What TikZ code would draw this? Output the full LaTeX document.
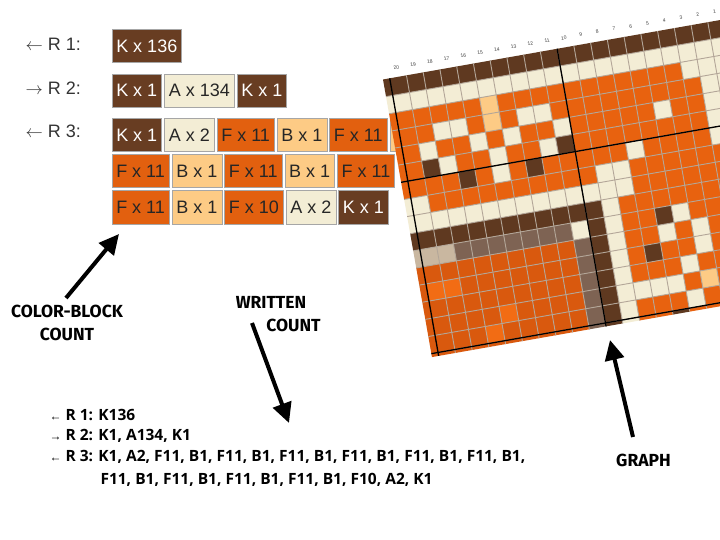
\documentclass[tikz,border=0pt]{standalone}
\usepackage{fontspec}
\setmainfont{Liberation Sans}
\newfontfamily\notefont{Open Sans}
\newfontfamily\comicfont{Fira Sans}
\usetikzlibrary{arrows.meta, positioning}

\definecolor{knitK}{HTML}{5F3920}
\definecolor{knitA}{HTML}{F3EDD5}
\definecolor{knitF}{HTML}{E8620F}
\definecolor{knitB}{HTML}{FDCB85}
\definecolor{knitG}{HTML}{7E6353}
\definecolor{knitL}{HTML}{C9B7A0}
\definecolor{knitD}{HTML}{D9590E}
\definecolor{knitE}{HTML}{F26C14}
\definecolor{boxK}{HTML}{683D22}
\definecolor{boxF}{HTML}{E2600F}
\definecolor{gridgrey}{HTML}{B3A698}

\newcommand{\arrL}{{\rmfamily\fontsize{12}{12}\selectfont ←}}
\newcommand{\arrR}{{\rmfamily\fontsize{12}{12}\selectfont →}}

\begin{document}
\begin{tikzpicture}[x=1pt, y=-1pt,
		node distance=2.4pt,
		% colour blocks of the count
		blk/.style={draw=black!35, line width=0.5pt, minimum height=33.4pt,
			inner xsep=4.3pt, inner ysep=0pt, font=\fontsize{18}{18}\selectfont},
		blkK/.style={blk, fill=boxK, text=white},
		blkA/.style={blk, fill=knitA, text=black!85},
		blkF/.style={blk, fill=boxF, text=black!85},
		blkB/.style={blk, fill=knitB, text=black!85},
		rowlabel/.style={anchor=west, font=\fontsize{18}{18}\selectfont, text=black!80},
		% hand lettered notes
		note/.style={font=\comicfont\bfseries\fontsize{17.5}{23}\selectfont, align=center},
		wline/.style={anchor=west, font=\notefont\bfseries\fontsize{15.5}{18}\selectfont},
		bigarrow/.style={line width=4pt, -{Triangle[length=20pt, width=19pt]}},
		% chart
		gridthin/.style={draw=gridgrey, line width=0.9pt},
		gridthick/.style={draw=black, line width=1.3pt},
		collabel/.style={font=\fontsize{5}{5}\selectfont, text=black!75, transform shape}
		]
		
		\useasboundingbox (0,0) rectangle (720,540);
		\fill[white] (0,0) rectangle (720,540);
		
		% === ROW LABELS ===
		\node[rowlabel] (lab1) at (22,44) {$\leftarrow$ R 1:};
		\node[rowlabel] (lab2) at (22,88) {$\rightarrow$ R 2:};
		\node[rowlabel] (lab3) at (22,131) {$\leftarrow$ R 3:};
		
		% === COLOUR-BLOCK COUNT ===
		% R 1
		\node[blkK, anchor=west] (r1k) at (111.7,46) {K x 136};
		
		% R 2
		\node[blkK, anchor=west] (r2k) at (111.7,90.7) {K x 1};
		\node[blkA, right=of r2k] (r2a) {A x 134};
		\node[blkK, right=of r2a] (r2kk) {K x 1};
		
		% R 3, three lines of blocks
		\node[blkK, anchor=west] (r3k) at (111.7,135) {K x 1};
		\node[blkA, right=of r3k] (r3a) {A x 2};
		\node[blkF, right=of r3a] (r3f) {F x 11};
		\node[blkB, right=of r3f] (r3b) {B x 1};
		\node[blkF, right=of r3b] (r3ff) {F x 11};
		\node[blkB, right=of r3ff, minimum width=20pt] (r3bb) {};
		
		\node[blkF, anchor=west] (r4f) at (111.7,171) {F x 11};
		\node[blkB, right=of r4f] (r4b) {B x 1};
		\node[blkF, right=of r4b] (r4ff) {F x 11};
		\node[blkB, right=of r4ff] (r4bb) {B x 1};
		\node[blkF, right=of r4bb] (r4fff) {F x 11};
		
		\node[blkF, anchor=west] (r5f) at (111.7,207.3) {F x 11};
		\node[blkB, right=of r5f] (r5b) {B x 1};
		\node[blkF, right=of r5b] (r5ff) {F x 10};
		\node[blkA, right=of r5ff] (r5a) {A x 2};
		\node[blkK, right=of r5a] (r5k) {K x 1};
		
		% === GRAPH (tilted chart) ===
		\begin{scope}[shift={(389.7,78.3)}, rotate=10, x=17pt, y=-17.4pt]
			\begin{scope}
				\clip (-0.4,0) rectangle (20,16.2);
				\foreach \row [count=\ii from 0] in {
					{K,K,K,K,K,K,K,K,K,K,K,K,K,K,K,K,K,K,K,K,K},
					{A,A,A,A,A,A,A,A,A,A,A,A,A,A,A,A,A,A,A,A,A},
					{F,F,F,F,F,F,B,F,F,F,F,F,F,F,F,F,F,F,A,A,A},
					{F,F,F,A,A,F,B,F,A,A,F,F,F,F,F,F,F,F,F,A,A},
					{F,F,A,F,F,A,F,A,F,F,A,F,F,F,F,F,A,F,F,A,A},
					{F,F,K,A,F,F,A,F,F,A,K,F,F,F,F,F,F,F,F,A,A},
					{F,F,F,F,K,F,A,F,K,F,F,F,F,F,A,F,F,F,F,A,F},
					{A,A,F,F,F,F,F,F,F,F,F,F,A,A,F,F,F,F,F,F,F},
					{A,A,A,A,A,A,A,A,A,A,A,A,A,A,F,F,F,F,F,F,F},
					{K,K,K,K,K,K,K,K,K,K,K,K,A,F,F,F,F,F,F,F,F},
					{L,L,L,G,G,G,G,G,G,G,A,K,A,F,F,K,A,F,F,F,F},
					{D,D,D,D,D,D,D,D,D,D,G,K,A,F,F,A,F,A,F,F,F},
					{D,E,E,D,D,D,D,D,D,D,G,K,A,F,K,F,F,A,F,F,F},
					{D,D,D,D,D,D,D,D,D,D,G,K,A,F,F,F,A,F,F,F,F},
					{D,D,D,D,D,E,D,D,D,D,G,K,A,A,A,A,F,B,F,F,F},
					{D,D,D,D,E,D,D,D,D,D,G,K,A,F,F,F,A,F,F,F,F},
					{D,D,D,D,D,D,D,D,D,D,G,K,A,F,F,K,F,F,F,F,F}} {
					\foreach \cc [count=\jj from -1] in \row {
						\fill[knit\cc] (\jj,\ii) rectangle ++(1,1);
					}
				}
				% thin cell lines
				\foreach \a in {1,...,19}
				\draw[gridthin] (\a,0) -- (\a,16.2);
				\foreach \b in {1,...,16}
				\draw[gridthin] (-0.4,\b) -- (20,\b);
				% every tenth line is heavy
				\foreach \a in {0,10,20}
				\draw[gridthick] (\a,0) -- (\a,16.2);
				\foreach \b in {6,16}
				\draw[gridthick] (-0.4,\b) -- (20,\b);
			\end{scope}
			% stitch numbers
			\foreach \k in {1,...,20}
			\node[collabel] (col\k) at ({20.5-\k},-0.55) {\k};
		\end{scope}
		
		% === WRITTEN COUNT ===
		\node[wline] (wl1) at (46,415) {\arrL\ R 1: K136};
		\node[wline] (wl2) at (46,436) {\arrR\ R 2: K1, A134, K1};
		\node[wline] (wl3) at (46,457) {\arrL\ R 3: K1, A2, F11, B1, F11, B1, F11, B1, F11, B1, F11, B1, F11, B1,};
		\node[wline] (wl4) at (97,480) {F11, B1, F11, B1, F11, B1, F11, B1, F10, A2, K1};
		
		% === NOTES AND POINTERS ===
		\node[note] (cbnote) at (67,323) {COLOR-BLOCK\\COUNT};
		\node[note] (wnote1) at (271,302) {WRITTEN};
		\node[note] (wnote2) at (293.5,325) {COUNT};
		\node[note] (gnote) at (643.5,460) {GRAPH};
		
		\coordinate (cbtail) at (66,298);
		\coordinate (cbtip) at (119,234);
		\coordinate (wtail) at (252,323);
		\coordinate (wtip) at (289,423);
		\coordinate (gtail) at (633,437);
		\coordinate (gtip) at (610,340);
		
		\draw[bigarrow] (cbtail) -- (cbtip);
		\draw[bigarrow] (wtail) -- (wtip);
		\draw[bigarrow] (gtail) -- (gtip);
		
	\end{tikzpicture}
\end{document}
